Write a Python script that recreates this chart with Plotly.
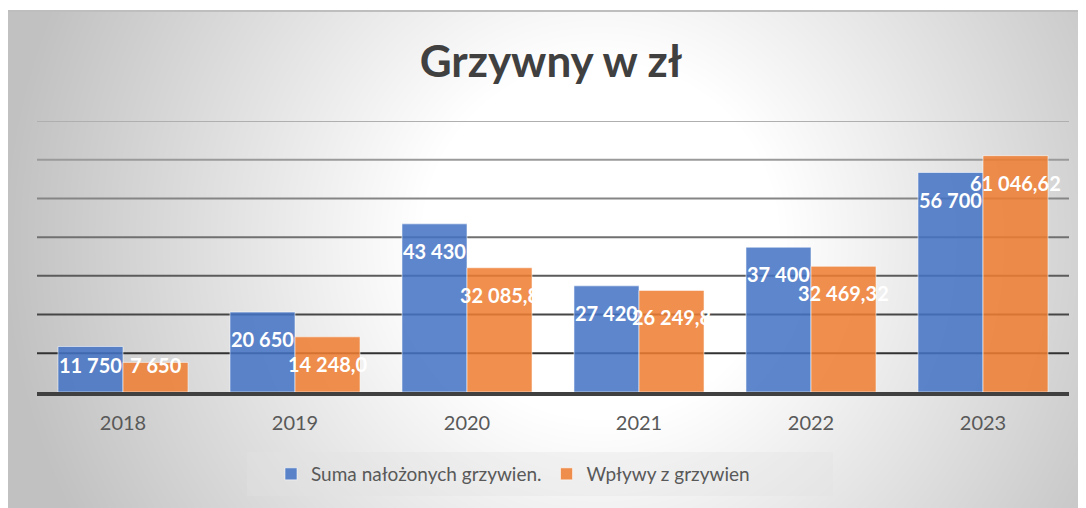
import base64, struct, zlib
import numpy as np
import plotly.graph_objects as go

# ---------------- data ----------------
years = ["2018", "2019", "2020", "2021", "2022", "2023"]
suma = [11750, 20650, 43430, 27420, 37400, 56700]
wplywy = [7650, 14248.00, 32085.80, 26249.80, 32469.32, 61046.62]
suma_labels = ["11 750", "20 650", "43 430", "27 420", "37 400", "56 700"]
wplywy_labels = ["7 650", "14 248,0", "32 085,8", "26 249,8", "32 469,32", "61 046,62"]
series_names = ["Suma nałożonych grzywien.", "Wpływy z grzywien"]
grid_values = [10000, 20000, 30000, 40000, 50000, 60000, 70000]
title_text = "Grzywny w zł"

# ---------------- style ----------------
OX, OY = 8, 8                      # default page margin of the browser
W, H = 1086 - OX, 508 - OY
ML, MR, MT, MB = 37 - OX, 17, 121 - OY, 116
PW, PH = W - ML - MR, H - MT - MB
FONT = "Lato"
BLUE = "rgba(68,114,196,0.86)"
ORANGE = "rgba(237,125,49,0.86)"
LABEL_DROP = 7000
BAR_HALF = PW / len(years) * 0.756 / 4


def px_x(x):
    return (x - OX - ML) / PW


def px_y(y):
    return (H - MB - (y - OY)) / PH


def gradient_png():
    yy, xx = np.mgrid[0:H, 0:W].astype(float)
    xx += OX
    yy += OY
    d = np.sqrt((xx - 600) ** 2 + (yy - 240) ** 2)
    t = np.clip((d - 180) / 420, 0, 1)
    img = 255 - 62 * t
    img[yy < 10] = 255
    img[xx < 7] = 255
    img[(yy >= 10) & (yy < 12) & (xx >= 7)] = 190
    img = img.astype(np.uint8)
    raw = b"".join(b"\x00" + img[r].tobytes() for r in range(H))

    def chunk(tp, data):
        return (struct.pack(">I", len(data)) + tp + data +
                struct.pack(">I", zlib.crc32(tp + data) & 0xFFFFFFFF))

    png = (b"\x89PNG\r\n\x1a\n" +
           chunk(b"IHDR", struct.pack(">IIBBBBB", W, H, 8, 0, 0, 0, 0)) +
           chunk(b"IDAT", zlib.compress(raw, 9)) + chunk(b"IEND", b""))
    return "data:image/png;base64," + base64.b64encode(png).decode()


fig = go.Figure()
fig.add_trace(go.Bar(x=years, y=suma, name=series_names[0],
                     marker=dict(color=BLUE, line=dict(color="rgba(255,255,255,0.55)", width=1))))
fig.add_trace(go.Bar(x=years, y=wplywy, name=series_names[1],
                     marker=dict(color=ORANGE, line=dict(color="rgba(255,255,255,0.55)", width=1))))

annotations = []
for vals, labels, shift in ((suma, suma_labels, -BAR_HALF), (wplywy, wplywy_labels, BAR_HALF)):
    for i, (v, lab) in enumerate(zip(vals, labels)):
        annotations.append(dict(x=i, y=max(v - LABEL_DROP, LABEL_DROP), xref="x", yref="y",
                                text="<b>%s</b>" % lab, showarrow=False, xshift=shift,
                                font=dict(family=FONT, size=20, color="white"),
                                xanchor="center", yanchor="middle"))

shapes = []
n = len(grid_values)
for i, g in enumerate(grid_values):
    c = int(50 + (175 - 50) * i / (n - 1))
    shapes.append(dict(type="line", xref="paper", yref="y", x0=0, x1=1, y0=g, y1=g,
                       line=dict(color="rgb(%d,%d,%d)" % (c, c, c), width=2), layer="below"))
shapes.append(dict(type="rect", xref="paper", yref="paper",
                   x0=px_x(247), x1=px_x(833), y0=px_y(496), y1=px_y(452),
                   fillcolor="rgba(225,225,225,0.35)", line=dict(width=0), layer="below"))

fig.update_layout(
    width=W, height=H,
    margin=dict(l=ML, r=MR, t=MT, b=MB, autoexpand=False),
    paper_bgcolor="white", plot_bgcolor="rgba(0,0,0,0)",
    barmode="group", bargap=0.244, bargroupgap=0,
    title=dict(text="<b>%s</b>" % title_text, x=(551 - OX) / W, xanchor="center",
               y=1 - (62 - OY) / H, yanchor="middle", yref="container",
               font=dict(family=FONT, size=44, color="#404040")),
    xaxis=dict(type="category", range=[-0.5, len(years) - 0.5], showgrid=False,
               showline=True, linecolor="#404040", linewidth=4,
               ticks="outside", ticklen=10, tickcolor="rgba(0,0,0,0)",
               tickfont=dict(family=FONT, size=20, color="#595959")),
    yaxis=dict(range=[0, 70000], showgrid=False, zeroline=False, showticklabels=False,
               ticks=""),
    showlegend=True,
    legend=dict(orientation="h", x=px_x(513), xanchor="center",
                y=px_y(474), yanchor="middle", bgcolor="rgba(0,0,0,0)",
                font=dict(family=FONT, size=19, color="#595959")),
    annotations=annotations,
    shapes=shapes,
    images=[dict(source=gradient_png(), xref="paper", yref="paper",
                 x=-ML / PW, y=1 + MT / PH, sizex=W / PW, sizey=H / PH,
                 xanchor="left", yanchor="top", sizing="stretch", layer="below")],
)

fig.write_html("out.html")
